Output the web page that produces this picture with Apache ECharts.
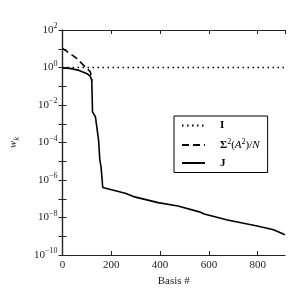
<!DOCTYPE html>
<html><head><meta charset="utf-8">
<script src="https://cdn.jsdelivr.net/npm/echarts@6/dist/echarts.min.js"></script>
<style>html,body{margin:0;padding:0;background:#fff}#c{width:300px;height:300px}</style>
</head><body><div id="c"></div>
<script>
// ---- data ----
const basisI = [0, 912];
const valuesI = [1, 1];
const basisS = [0, 53, 114, 121];
const valuesS = [10.5, 3.5, 0.59, 0.2];
const basisJ = [0, 30, 68, 101, 114, 120, 123, 135, 148, 153, 158, 165, 169, 257, 291, 392, 473, 561, 581, 676, 798, 865, 912];
const valuesJ = [0.95, 0.9, 0.70, 0.47, 0.34, 0.20, 0.0043, 0.0023, 1.3e-4, 1.15e-5, 5e-6, 4e-7, 3.7e-7, 1.95e-7, 1.3e-7, 6.2e-8, 4.1e-8, 2.0e-8, 1.55e-8, 7.4e-9, 3.5e-9, 2.2e-9, 1.2e-9];
const xTickLabels = [0, 200, 400, 600, 800];
const yLabelExponents = [-10, -8, -6, -4, -2, 0, 2];
const seriesNames = ['I', 'S', 'J'];

const FONT = 'Liberation Serif';
const axisCol = '#222';
const zip = (a, b) => a.map((v, i) => [v, b[i]]);

const axisLine = {show: true, lineStyle: {color: axisCol, width: 1.2}};
const axisTick = {show: true, inside: true, length: 4, lineStyle: {color: axisCol, width: 1}};

const chart = echarts.init(document.getElementById('c'), null, {renderer: 'canvas'});
chart.setOption({
  animation: false,
  backgroundColor: '#fff',
  grid: {left: 60, right: 15, top: 30, bottom: 45},
  xAxis: [{
    type: 'value', min: 0, max: 912, interval: 200, position: 'bottom',
    axisLine, axisTick, splitLine: {show: false},
    axisLabel: {
      margin: 5, color: axisCol, fontFamily: FONT, fontSize: 11, showMaxLabel: false,
      formatter: v => xTickLabels.includes(v) ? String(v) : ''
    },
    name: 'Basis #', nameLocation: 'middle', nameGap: 19,
    nameTextStyle: {color: axisCol, fontFamily: FONT, fontSize: 11}
  }, {
    type: 'value', min: 0, max: 912, interval: 200, position: 'top',
    axisLine, axisTick, splitLine: {show: false}, axisLabel: {show: false}
  }],
  yAxis: [{
    type: 'log', logBase: 10, min: 1e-10, max: 100, interval: 1, position: 'left',
    axisLine, axisTick, splitLine: {show: false},
    axisLabel: {
      margin: 5, color: axisCol, fontFamily: FONT, fontSize: 11,
      formatter: v => {
        const e = Math.round(Math.log10(v));
        if (!yLabelExponents.includes(e)) return '';
        return '{b|10}{s|' + (e < 0 ? '\u2212' + (-e) : e) + '}';
      },
      rich: {
        b: {fontFamily: FONT, fontSize: 11, color: axisCol},
        s: {fontFamily: FONT, fontSize: 8, color: axisCol, padding: [0, 0, 8, 0]}
      }
    },
    name: '{i|w}{sub|k}', nameLocation: 'middle', nameRotate: 90, nameGap: 42,
    nameTextStyle: {
      color: axisCol, fontFamily: FONT, fontSize: 11,
      rich: {
        i: {fontFamily: FONT, fontSize: 11, fontStyle: 'italic', color: axisCol},
        sub: {fontFamily: FONT, fontSize: 8, fontStyle: 'italic', color: axisCol, padding: [6, 0, 0, 0]}
      }
    }
  }, {
    type: 'log', logBase: 10, min: 1e-10, max: 100, interval: 1, position: 'right',
    axisLine, axisTick, splitLine: {show: false}, axisLabel: {show: false}
  }],
  legend: {
    data: seriesNames,
    orient: 'vertical', left: 174, top: 116,
    borderColor: '#000', borderWidth: 1, borderRadius: 0, backgroundColor: '#fff',
    padding: [4, 8, 4, 7], itemWidth: 23, itemHeight: 10, itemGap: 7,
    itemStyle: {opacity: 0},
    formatter: n => {
      if (n === 'I') return '{g|}{b|I}';
      if (n === 'J') return '{g|}{b|J}';
      return '{g|}{b|\u03A3}{s|2}{n|(}{i|A}{s|2}{n|)/}{i|N}';
    },
    textStyle: {
      color: '#000', fontFamily: FONT, fontSize: 11,
      rich: {
        g: {width: 10},
        b: {fontFamily: FONT, fontSize: 11, fontWeight: 'bold', color: '#000'},
        n: {fontFamily: FONT, fontSize: 11, color: '#000'},
        i: {fontFamily: FONT, fontSize: 11, fontStyle: 'italic', color: '#000'},
        s: {fontFamily: FONT, fontSize: 8, color: '#000', padding: [0, 0, 6, 0]}
      }
    }
  },
  series: [{
    name: 'I', type: 'line', data: zip(basisI, valuesI), symbol: 'none',
    lineStyle: {color: '#000', width: 1.5, type: [1.5, 3.5]}, itemStyle: {color: '#000'}
  }, {
    name: 'S', type: 'line', data: zip(basisS, valuesS), symbol: 'none',
    lineStyle: {color: '#000', width: 1.6, type: [7, 4]}, itemStyle: {color: '#000'}
  }, {
    name: 'J', type: 'line', data: zip(basisJ, valuesJ), symbol: 'none',
    lineStyle: {color: '#000', width: 1.6}, itemStyle: {color: '#000'}
  }]
});
</script></body></html>
